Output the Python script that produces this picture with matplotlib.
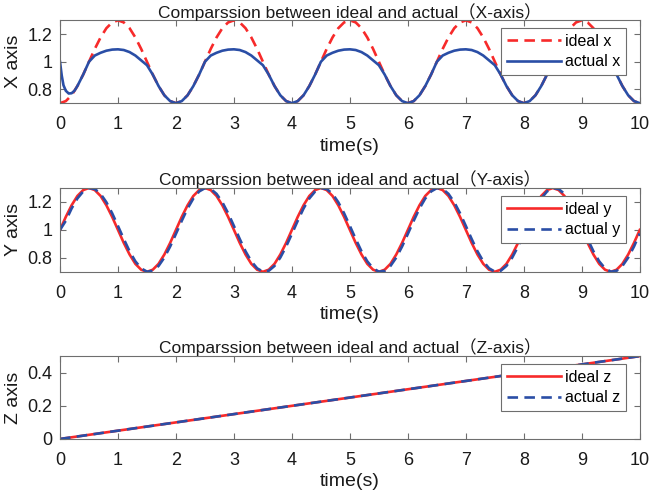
import numpy as np
import matplotlib
matplotlib.use("Agg")
import matplotlib.pyplot as plt

plt.rcParams['font.family'] = ['Liberation Sans', 'Noto Sans CJK SC', 'DejaVu Sans']

# time grid (s)
t = np.round(np.arange(101) * 0.1, 2)
t_ax = np.concatenate([[0.0, 0.03, 0.06, 0.1, 0.15, 0.2, 0.25],
                       np.round(np.arange(3, 101) * 0.1, 2)])

ideal_x = [0.700, 0.715, 0.757, 0.824, 0.907, 1.000, 1.093, 1.176, 1.243, 1.285,
           1.300, 1.285, 1.243, 1.176, 1.093, 1.000, 0.907, 0.824, 0.757, 0.715,
           0.700, 0.715, 0.757, 0.824, 0.907, 1.000, 1.093, 1.176, 1.243, 1.285,
           1.300, 1.285, 1.243, 1.176, 1.093, 1.000, 0.907, 0.824, 0.757, 0.715,
           0.700, 0.715, 0.757, 0.824, 0.907, 1.000, 1.093, 1.176, 1.243, 1.285,
           1.300, 1.285, 1.243, 1.176, 1.093, 1.000, 0.907, 0.824, 0.757, 0.715,
           0.700, 0.715, 0.757, 0.824, 0.907, 1.000, 1.093, 1.176, 1.243, 1.285,
           1.300, 1.285, 1.243, 1.176, 1.093, 1.000, 0.907, 0.824, 0.757, 0.715,
           0.700, 0.715, 0.757, 0.824, 0.907, 1.000, 1.093, 1.176, 1.243, 1.285,
           1.300, 1.285, 1.243, 1.176, 1.093, 1.000, 0.907, 0.824, 0.757, 0.715,
           0.700]

actual_x = [1.000, 0.900, 0.830, 0.790, 0.770, 0.772, 0.790,
            0.824, 0.907, 1.000, 1.045, 1.065, 1.080, 1.088,
            1.090, 1.085, 1.070, 1.045, 1.010, 0.975, 0.907, 0.824, 0.757, 0.715,
            0.700, 0.715, 0.757, 0.824, 0.907, 1.000, 1.045, 1.065, 1.080, 1.088,
            1.090, 1.085, 1.070, 1.045, 1.010, 0.975, 0.907, 0.824, 0.757, 0.715,
            0.700, 0.715, 0.757, 0.824, 0.907, 1.000, 1.045, 1.065, 1.080, 1.088,
            1.090, 1.085, 1.070, 1.045, 1.010, 0.975, 0.907, 0.824, 0.757, 0.715,
            0.700, 0.715, 0.757, 0.824, 0.907, 1.000, 1.045, 1.065, 1.080, 1.088,
            1.090, 1.085, 1.070, 1.045, 1.010, 0.975, 0.907, 0.824, 0.757, 0.715,
            0.700, 0.715, 0.757, 0.824, 0.907, 1.000, 1.045, 1.065, 1.080, 1.088,
            1.090, 1.085, 1.070, 1.045, 1.010, 0.975, 0.907, 0.824, 0.757, 0.715,
            0.700]

ideal_y = [1.000, 1.093, 1.176, 1.243, 1.285, 1.300, 1.285, 1.243, 1.176, 1.093,
           1.000, 0.907, 0.824, 0.757, 0.715, 0.700, 0.715, 0.757, 0.824, 0.907,
           1.000, 1.093, 1.176, 1.243, 1.285, 1.300, 1.285, 1.243, 1.176, 1.093,
           1.000, 0.907, 0.824, 0.757, 0.715, 0.700, 0.715, 0.757, 0.824, 0.907,
           1.000, 1.093, 1.176, 1.243, 1.285, 1.300, 1.285, 1.243, 1.176, 1.093,
           1.000, 0.907, 0.824, 0.757, 0.715, 0.700, 0.715, 0.757, 0.824, 0.907,
           1.000, 1.093, 1.176, 1.243, 1.285, 1.300, 1.285, 1.243, 1.176, 1.093,
           1.000, 0.907, 0.824, 0.757, 0.715, 0.700, 0.715, 0.757, 0.824, 0.907,
           1.000, 1.093, 1.176, 1.243, 1.285, 1.300, 1.285, 1.243, 1.176, 1.093,
           1.000, 0.907, 0.824, 0.757, 0.715, 0.700, 0.715, 0.757, 0.824, 0.907,
           1.000]

actual_y = [1.000, 1.065, 1.153, 1.225, 1.275, 1.299, 1.293, 1.258, 1.198, 1.119,
            1.028, 0.935, 0.847, 0.775, 0.725, 0.701, 0.707, 0.742, 0.802, 0.881,
            0.972, 1.065, 1.153, 1.225, 1.275, 1.299, 1.293, 1.258, 1.198, 1.119,
            1.028, 0.935, 0.847, 0.775, 0.725, 0.701, 0.707, 0.742, 0.802, 0.881,
            0.972, 1.065, 1.153, 1.225, 1.275, 1.299, 1.293, 1.258, 1.198, 1.119,
            1.028, 0.935, 0.847, 0.775, 0.725, 0.701, 0.707, 0.742, 0.802, 0.881,
            0.972, 1.065, 1.153, 1.225, 1.275, 1.299, 1.293, 1.258, 1.198, 1.119,
            1.028, 0.935, 0.847, 0.775, 0.725, 0.701, 0.707, 0.742, 0.802, 0.881,
            0.972, 1.065, 1.153, 1.225, 1.275, 1.299, 1.293, 1.258, 1.198, 1.119,
            1.028, 0.935, 0.847, 0.775, 0.725, 0.701, 0.707, 0.742, 0.802, 0.881,
            0.975]

t_z = [0, 1, 2, 3, 4, 5, 6, 7, 8, 9, 10]
ideal_z = [0.0, 0.05, 0.10, 0.15, 0.20, 0.25, 0.30, 0.35, 0.40, 0.45, 0.50]
actual_z = [0.0, 0.05, 0.10, 0.15, 0.20, 0.25, 0.30, 0.35, 0.40, 0.45, 0.50]

red = '#f72a2a'
blue = '#2a4ea6'
grey = '#6e6e6e'
txt = '#1a1a1a'

fig = plt.figure(figsize=(6.5, 4.96), dpi=100)
ax1 = fig.add_axes([0.0923, 0.792, 0.892, 0.167])
ax2 = fig.add_axes([0.0923, 0.452, 0.892, 0.169])
ax3 = fig.add_axes([0.0923, 0.115, 0.892, 0.167])

lw = 1.9
ax1.plot(t, ideal_x, color=red, lw=lw, ls='--', dashes=(4, 2.4), label='ideal x')
ax1.plot(t_ax, actual_x, color=blue, lw=lw, label='actual x')
ax2.plot(t, ideal_y, color=red, lw=lw, label='ideal y')
ax2.plot(t, actual_y, color=blue, lw=lw, ls='--', dashes=(4, 2.4), label='actual y')
ax3.plot(t_z, ideal_z, color=red, lw=lw, label='ideal z')
ax3.plot(t_z, actual_z, color=blue, lw=lw, ls='--', dashes=(4, 2.4), label='actual z')

setups = [
    (ax1, 'X', (0.7, 1.3), [0.8, 1.0, 1.2], ['0.8', '1', '1.2']),
    (ax2, 'Y', (0.7, 1.3), [0.8, 1.0, 1.2], ['0.8', '1', '1.2']),
    (ax3, 'Z', (0.0, 0.5), [0.0, 0.2, 0.4], ['0', '0.2', '0.4']),
]
for ax, name, ylim, yt, ytl in setups:
    ax.set_xlim(0, 10)
    ax.set_ylim(*ylim)
    ax.set_xticks(range(0, 11))
    ax.set_yticks(yt)
    ax.set_yticklabels(ytl)
    ax.tick_params(direction='in', top=True, right=True, length=4, width=0.8,
                   color=grey, labelsize=13, labelcolor=txt)
    ax.tick_params(axis='x', pad=9.5)
    ax.tick_params(axis='y', pad=5.5)
    for s in ax.spines.values():
        s.set_color(grey)
        s.set_linewidth(0.8)
    ax.set_xlabel('time(s)', fontsize=14, color=txt, labelpad=3)
    ax.set_ylabel(name + ' axis', fontsize=14, color=txt, labelpad=4)
    ax.set_title('Comparssion between ideal and actual（' + name + '-axis）',
                 fontsize=12.5, color=txt, pad=2)
    leg = ax.legend(loc='upper right', bbox_to_anchor=(0.976, 0.905),
                    borderaxespad=0, fontsize=11.5, handlelength=3.4,
                    handletextpad=0.25, labelspacing=0.35, borderpad=0.35,
                    fancybox=False, framealpha=1, edgecolor=grey)
    leg.get_frame().set_linewidth(0.8)

fig.savefig('out.png', dpi=100)
